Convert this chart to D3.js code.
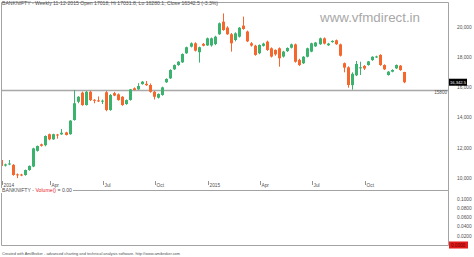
<!DOCTYPE html>
<html><head><meta charset="utf-8">
<script src="https://cdn.jsdelivr.net/npm/d3@7"></script>
<style>body{margin:0;background:#fff}svg{display:block}</style>
</head><body>
<svg id="c" width="474" height="257"></svg>
<script>
// Weekly BANKNIFTY candles, Jan 2014 - 11 Dec 2015
const opens = [11190,10820,10900,10870,10240,10230,10200,10530,10760,11800,12230,12170,12900,12560,12880,12890,13020,12900,13840,15050,15650,14830,15710,15180,15140,15080,15680,14500,15620,15540,15380,14900,15170,15940,15870,16220,16240,16160,15710,15320,15500,16340,16600,17200,17480,17660,18260,18700,18920,18330,18880,18780,
  18780,18870,19520,20350,19960,19520,19140,19360,20090,19700,18920,18760,18260,18750,19030,18590,18480,18590,18040,18400,18630,18850,17820,17600,18030,18370,18720,18860,19250,18790,19000,19120,18850,17600,17330,16150,16800,17300,17420,17480,17810,18000,18150,17480,16820,17040,17260,17440,17018];
const highs = [11260,10950,11190,10920,10300,10280,10560,10830,12000,12150,12280,12820,12940,12930,12920,13240,13060,13830,15830,15420,15720,15760,15780,15220,15400,15200,15760,15560,15700,15600,15420,15200,15900,16000,16280,16420,16420,16260,15760,15600,16050,16600,17200,17520,17740,18250,18700,18980,18990,18700,18940,19300,
  19300,19420,20300,20900,20050,19600,19650,20000,20690,19760,19000,18820,18850,18960,19100,18650,18520,18650,18420,18650,18900,18900,17900,18070,18630,18960,19010,19300,19310,18950,19120,19170,18900,17650,17400,17000,17750,17700,17480,17750,18060,18100,18200,17530,17080,17200,17520,17480,17031.8];
const lows = [10750,10760,10850,10150,9990,10120,10150,10480,10720,11750,12080,12100,12500,12530,12600,12860,12820,12870,13800,14950,14780,14800,15100,14950,15040,14900,14420,14450,15420,15120,14780,14850,15120,15800,15840,16180,16100,15650,15200,15260,15450,16300,16560,17150,17430,17620,18220,18650,18380,17640,18720,18750,
  18700,18800,19480,19750,19480,18370,19050,19300,19820,19000,18700,18100,18200,18700,18420,17980,18100,17370,17980,18350,18580,17640,17420,17550,17990,18330,18680,18820,18850,18750,18960,18820,18050,17000,15980,15850,16750,16820,17150,17440,17760,17950,17430,17150,16780,17000,17220,17100,16280.1];
const closes = [10800,10900,10960,10200,10180,10170,10530,10800,11960,12120,12130,12780,12560,12900,12850,13000,12850,13800,14950,15380,14830,15710,15160,15120,15070,15120,14500,15500,15460,15160,14830,15160,15870,15830,16090,16380,16150,15710,15380,15560,16000,16560,17150,17480,17700,18210,18660,18920,18430,18660,18760,19250,
  19250,19360,20245,19800,19520,18920,19580,19950,19870,19050,18770,18150,18810,18900,18480,18040,18190,17930,18370,18610,18850,17700,17480,18030,18590,18920,18970,19250,18900,18900,19080,18860,18100,17310,16160,16900,17550,17330,17250,17720,18030,18050,17480,17200,17040,17150,17480,17150,16342.5];

const xTickIndex  = [0, 12, 25, 38, 51, 64, 77, 90];
const xTickLabels = ["2014","Apr","Jul","Oct","2015","Apr","Jul","Oct"];
const priceTicks  = [10000, 12000, 14000, 16000, 18000, 20000];
const volTicks    = [0, 0.02, 0.04, 0.06, 0.08, 0.10];
const supportLevel = 15800;
const lastClose = 16342.5;
const titleText  = "BANKNIFTY - Weekly 11-12-2015 Open 17018, Hi 17031.8, Lo 16280.1, Close 16342.5 (-3.3%)";
const footerText = "Created with AmiBroker - advanced charting and technical analysis software. http://www.amibroker.com";
const watermark  = "www.vfmdirect.in";

const FONT = "'Liberation Sans', Arial, sans-serif";
const UP = "#3bb26d", DOWN = "#f5672c", FRAME = "#a3a3a3", TXT = "#505050";

const svg = d3.select("#c");
svg.append("rect").attr("width",474).attr("height",257).attr("fill","#fff");

const L = 1.5, R = 448.5, T = 2.5, B = 190.5, VB = 245.5;

const data = opens.map((o,i)=>({i, o, h:highs[i], l:lows[i], c:closes[i]}));
const x = d3.scaleLinear().domain([0, data.length-1]).range([1, 404.2]);
const y = d3.scaleLinear().domain([10000, 20000]).range([178, 27]);
const yv = d3.scaleLinear().domain([0, 0.1]).range([245, 199]);

// clip
svg.append("clipPath").attr("id","pc").append("rect").attr("x",2).attr("y",3).attr("width",446).attr("height",187);

// watermark
svg.append("text").attr("x",320).attr("y",22).attr("font-family",FONT).attr("font-size",13)
  .attr("fill","#a8a8a8").attr("textLength",100).attr("lengthAdjust","spacingAndGlyphs").text(watermark);

const plot = svg.append("g").attr("clip-path","url(#pc)");

// support line
plot.append("line").attr("x1",L).attr("x2",R).attr("y1",y(supportLevel)).attr("y2",y(supportLevel))
  .attr("stroke","#a8a8a8").attr("stroke-width",1.5);

// candles
const cg = plot.selectAll("g.c").data(data).join("g").attr("class","c")
  .attr("fill", d=>d.c>=d.o?UP:DOWN).attr("stroke", d=>d.c>=d.o?UP:DOWN);
cg.append("line").attr("x1",d=>Math.round(x(d.i))+0.5).attr("x2",d=>Math.round(x(d.i))+0.5)
  .attr("y1",d=>y(d.h)).attr("y2",d=>y(d.l)).attr("stroke-width",1);
cg.append("rect").attr("stroke","none")
  .attr("x",d=>Math.round(x(d.i))-1).attr("width",3)
  .attr("y",d=>y(Math.max(d.o,d.c)))
  .attr("height",d=>Math.max(1, Math.abs(y(d.o)-y(d.c))));

// support label
svg.append("text").attr("x",447).attr("y",y(supportLevel)+3.6).attr("text-anchor","end")
  .attr("font-family",FONT).attr("font-size",4.6).attr("fill",TXT).text(String(supportLevel));

// x axis ticks
const xt = svg.append("g");
xTickIndex.forEach((ix,k)=>{
  const px = Math.round(x(ix))+1.5;
  xt.append("line").attr("x1",px).attr("x2",px).attr("y1",181).attr("y2",185).attr("stroke","#777").attr("stroke-width",0.8);
  xt.append("text").attr("x",px+1).attr("y",186.5).attr("font-family",FONT).attr("font-size",4.8)
    .attr("fill",TXT).text(xTickLabels[k]);
});

// frames
const fr = svg.append("g").attr("fill","none").attr("stroke",FRAME).attr("stroke-width",1);
fr.append("path").attr("d",`M${L},${T}H${R}V${B}`);
fr.append("path").attr("d",`M${L},${T}V${VB}H${R}V${B}H${L}`);

// title (on top border)
const tt = svg.append("text").attr("x",2).attr("y",4.6).attr("font-family",FONT).attr("font-size",4.8)
  .attr("fill",TXT).attr("textLength",216).attr("lengthAdjust","spacingAndGlyphs").text(titleText);
svg.insert("rect","text").attr("x",1).attr("y",0).attr("width",219).attr("height",5).attr("fill","#fff");
tt.raise();

// price axis labels
priceTicks.forEach(v=>{
  svg.append("text").attr("x",457).attr("y",y(v)+1.8).attr("font-family",FONT).attr("font-size",4.8)
    .attr("fill",TXT).text(d3.format(",")(v));
});
// last close box
svg.append("rect").attr("x",449).attr("y",y(lastClose)-3.5).attr("width",18).attr("height",7).attr("fill","#000");
svg.append("text").attr("x",450).attr("y",y(lastClose)+1.7).attr("font-family",FONT).attr("font-size",4.4)
  .attr("fill","#fff").attr("textLength",16).attr("lengthAdjust","spacingAndGlyphs").text(d3.format(",.1f")(lastClose));

// volume pane title
svg.append("rect").attr("x",1).attr("y",188).attr("width",72).attr("height",5).attr("fill","#fff");
const vt = svg.append("text").attr("x",2).attr("y",192.4).attr("font-family",FONT).attr("font-size",4.8)
  .attr("textLength",70).attr("lengthAdjust","spacingAndGlyphs");
vt.append("tspan").attr("fill",TXT).text("BANKNIFTY - ");
vt.append("tspan").attr("fill","#e8202a").text("Volume()");
vt.append("tspan").attr("fill",TXT).text(" = 0.00");

// volume axis
volTicks.forEach(v=>{
  if (v===0) return;
  svg.append("text").attr("x",457).attr("y",yv(v)+1.8).attr("font-family",FONT).attr("font-size",4.8)
    .attr("fill",TXT).text(d3.format(".4f")(v));
});
svg.append("rect").attr("x",449).attr("y",yv(0)-3.5).attr("width",19).attr("height",7).attr("fill","#e31b1b");
svg.append("text").attr("x",451).attr("y",yv(0)+1.7).attr("font-family",FONT).attr("font-size",4.6)
  .attr("fill","#6a0000").text(d3.format(".4f")(0));

// footer
svg.append("text").attr("x",2).attr("y",254.5).attr("font-family",FONT).attr("font-size",3.8)
  .attr("fill",TXT).attr("textLength",178).attr("lengthAdjust","spacingAndGlyphs").text(footerText);
</script>
</body></html>
